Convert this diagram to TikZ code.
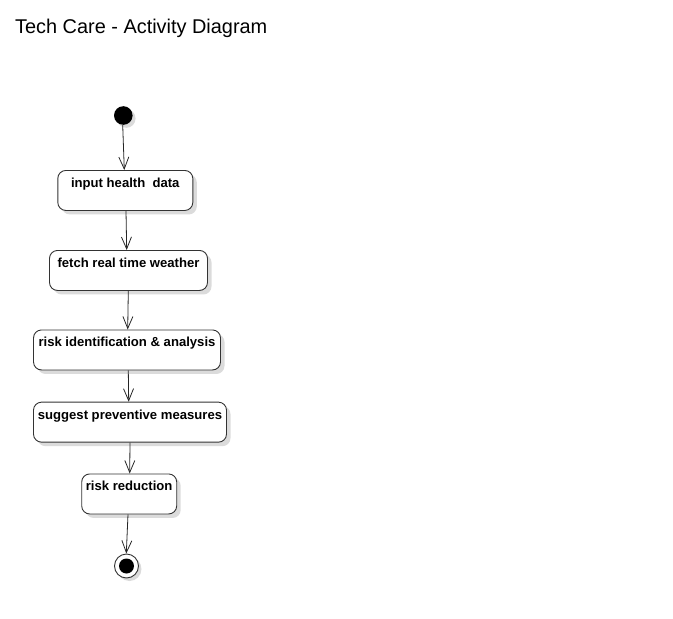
\documentclass[tikz,border=0pt]{standalone}
\usepackage{fontspec}
\setmainfont{Liberation Sans}
\usetikzlibrary{arrows.meta,shadows}
\begin{document}
\begin{tikzpicture}[x=1pt,y=-1pt,
  act/.style={draw=black!80, line width=0.9pt, fill=white, rounded corners=8pt,
    anchor=north, font=\fontsize{13.1}{15}\selectfont\bfseries,
    inner xsep=0pt, inner ysep=7.5pt, text height=9.5pt, text depth=15.5pt,
    drop shadow={shadow xshift=4pt, shadow yshift=-4pt, fill=black!14, opacity=1}},
  flow/.style={draw=black!85, line width=0.8pt, -{Straight Barb[length=12pt,width=10pt,line width=0.8pt]}},
  sh/.style={drop shadow={shadow xshift=3pt, shadow yshift=-3pt, fill=black!14, opacity=1}}
]
\useasboundingbox (0,0) rectangle (673,619);
\node[anchor=base west, inner sep=0pt, font=\fontsize{19.9}{23}\selectfont] (title) at (15,33) {Tech Care - Activity Diagram};

\node[circle, fill=black, minimum size=18.6pt, inner sep=0pt, sh] (start) at (123.3,115.5) {};

\node[act, minimum width=135pt] (a1) at (125.3,170) {input health\ \ data};
\node[act, minimum width=158pt] (a2) at (128.5,250) {fetch real time weather};
\node[act, minimum width=187pt] (a3) at (127,329.5) {risk identification \& analysis};
\node[act, minimum width=193pt] (a4) at (130,401.7) {suggest preventive measures};
\node[act, minimum width=95pt] (a5) at (129.2,473.5) {risk reduction};

\node[circle, draw=black!80, line width=0.9pt, fill=white, minimum size=24pt, inner sep=0pt, sh] (end) at (126.5,566) {};
\node[circle, fill=black, minimum size=15pt, inner sep=0pt] (endin) at (end.center) {};

\draw[flow] ([xshift=-0.6pt]start.south) -- ([xshift=-1pt]a1.north);
\draw[flow] ([xshift=0.7pt]a1.south) -- ([xshift=-1.8pt]a2.north);
\draw[flow] ([xshift=-0.2pt]a2.south) -- ([xshift=0.7pt]a3.north);
\draw[flow] ([xshift=1.3pt]a3.south) -- ([xshift=-1.3pt]a4.north);
\draw[flow] ([xshift=0pt]a4.south) -- ([xshift=0.5pt]a5.north);
\draw[flow] ([xshift=-1.2pt]a5.south) -- ([xshift=-0.2pt]end.north);
\end{tikzpicture}
\end{document}
